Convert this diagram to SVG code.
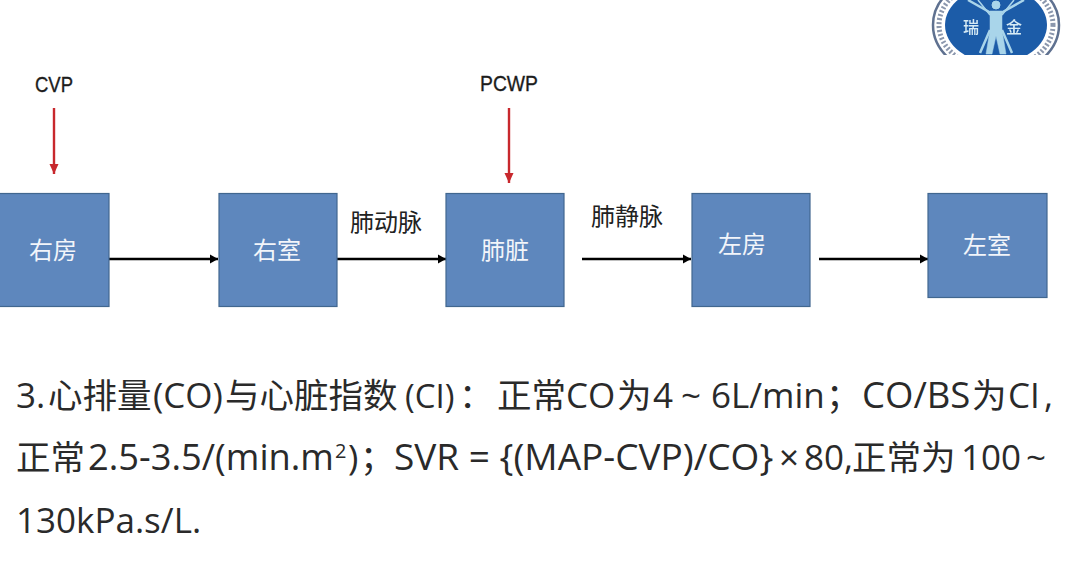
<svg xmlns="http://www.w3.org/2000/svg" width="1080" height="574" viewBox="0 0 1080 574">
<style>
text{font-family:"Open Sans","Noto Sans CJK SC",sans-serif}
.box{fill:#5e87bd;stroke:#41678f;stroke-width:1.2}
.bl{fill:#f2f5fa;font-size:24px;text-anchor:middle;font-family:"Noto Sans CJK SC",sans-serif}
.lb{fill:#222;font-size:24px;text-anchor:middle;font-family:"Noto Sans CJK SC",sans-serif}
.tp{fill:#1c1c1c;font-size:22px;text-anchor:middle;font-family:"Liberation Sans","Noto Sans",sans-serif;stroke:#1c1c1c;stroke-width:.35}
.body{fill:#2a2a2a;font-size:35px}
.c{font-size:34.500px;font-family:"Noto Sans CJK SC",sans-serif}
.lg{font-size:16px;font-weight:500;fill:#d7ecf5;text-anchor:middle;font-family:"Noto Sans CJK SC",sans-serif}
.k{stroke:#000;stroke-width:2.4;fill:none;marker-end:url(#ak)}
.r{stroke:#c8282d;stroke-width:2.4;fill:none;marker-end:url(#ar)}
</style>
<defs>
<marker id="ak" markerUnits="userSpaceOnUse" markerWidth="10" markerHeight="12" refX="8" refY="5" orient="auto"><path d="M0 0.500L8 5L0 9.500z" fill="#000"/></marker>
<marker id="ar" markerUnits="userSpaceOnUse" markerWidth="12" markerHeight="12" refX="10" refY="5" orient="auto"><path d="M0 0.500L10 5L0 9.500z" fill="#c8282d"/></marker>
<clipPath id="lc"><rect x="920" y="0" width="150" height="55"/></clipPath>
<filter id="soft" x="-5%" y="-5%" width="110%" height="110%"><feGaussianBlur stdDeviation="0.5"/></filter>
</defs>
<rect width="1080" height="574" fill="#fff"/>
<g id="logo" clip-path="url(#lc)">
<g filter="url(#soft)">
<ellipse cx="996" cy="25" rx="63" ry="50" fill="#fff" stroke="#5f7190" stroke-width="2.500"/>
<ellipse cx="996" cy="25" rx="57" ry="44" fill="none" stroke="#8b97ad" stroke-width="5" stroke-dasharray="2 2"/>
<ellipse cx="996" cy="25" rx="51" ry="38" fill="#1f5ba8"/>
<g fill="#a9d5ea" stroke="#a9d5ea">
<circle cx="996" cy="5" r="4"/>
<path d="M990 11L1002 11L1002 30L1006 54L1000 54L996 36L992 54L986 54L990 30z" stroke-width="0.500"/>
<path d="M991 13L968 0M1001 13L1024 0M990 30L980 53M1002 30L1012 53" stroke-width="2.500" fill="none"/>
<path d="M990 15L978 0M1002 15L1014 0" stroke-width="1.500" fill="none"/>
</g>
<text class="lg" x="971" y="33">瑞</text>
<text class="lg" x="1014" y="33">金</text>
</g>
</g>
<g id="connectors">
<line class="r" x1="54" y1="108" x2="54" y2="174"/>
<line class="r" x1="509" y1="108" x2="509" y2="183"/>
<line class="k" x1="109" y1="259" x2="218" y2="259"/>
<line class="k" x1="337" y1="259" x2="446" y2="259"/>
<line class="k" x1="582" y1="259" x2="691" y2="259"/>
<line class="k" x1="819" y1="259" x2="928" y2="259"/>
</g>
<g id="n-ra"><rect class="box" x="-1" y="193.500" width="110" height="113"/><text class="bl" x="53" y="259">右房</text></g>
<g id="n-rv"><rect class="box" x="219" y="193.500" width="118" height="113"/><text class="bl" x="277" y="259">右室</text></g>
<g id="n-lung"><rect class="box" x="446" y="193.500" width="118" height="113"/><text class="bl" x="505" y="259">肺脏</text></g>
<g id="n-la"><rect class="box" x="692" y="193.500" width="118" height="113"/><text class="bl" x="742" y="253">左房</text></g>
<g id="n-lv"><rect class="box" x="928" y="193.500" width="119" height="104"/><text class="bl" x="987" y="254">左室</text></g>
<g id="labels">
<text class="tp" x="54" y="92" textLength="38" lengthAdjust="spacingAndGlyphs">CVP</text>
<text class="tp" x="509" y="91" textLength="58" lengthAdjust="spacingAndGlyphs">PCWP</text>
<text class="lb" x="386" y="231">肺动脉</text>
<text class="lb" x="627" y="225">肺静脉</text>
</g>
<g id="body">
<text class="body" y="408"><tspan x="16">3.</tspan><tspan class="c" x="48">心排量</tspan><tspan x="153">(CO)</tspan><tspan class="c" x="225">与心脏指数</tspan><tspan x="405" font-size="33">(CI)</tspan><tspan class="c" x="459">：</tspan></text>
<text class="body" y="408"><tspan class="c" x="497">正常</tspan><tspan x="566">CO</tspan><tspan class="c" x="617">为</tspan><tspan x="653">4</tspan><tspan x="681">~</tspan><tspan x="711">6L/min</tspan><tspan class="c" x="826">；</tspan></text>
<text class="body" y="408"><tspan x="862" font-size="36.500">CO/BS</tspan><tspan class="c" x="972">为</tspan><tspan x="1008">CI</tspan><tspan x="1044">,</tspan></text>
<text class="body" y="470"><tspan class="c" x="16">正常</tspan><tspan x="88" font-size="36.300">2.5-3.5/(min.m</tspan><tspan font-size="20" x="335" dy="-12">2</tspan><tspan x="348" dy="12">)</tspan><tspan class="c" x="360">；</tspan></text>
<text class="body" y="470"><tspan x="394" font-size="37">SVR = {(MAP-CVP)/CO}</tspan><tspan x="779">×</tspan><tspan x="804">80,</tspan><tspan class="c" x="852">正常为</tspan><tspan x="961">100</tspan><tspan x="1026">~</tspan></text>
<text class="body" x="16" y="533" font-size="35.500">130kPa.s/L.</text>
</g>
</svg>
